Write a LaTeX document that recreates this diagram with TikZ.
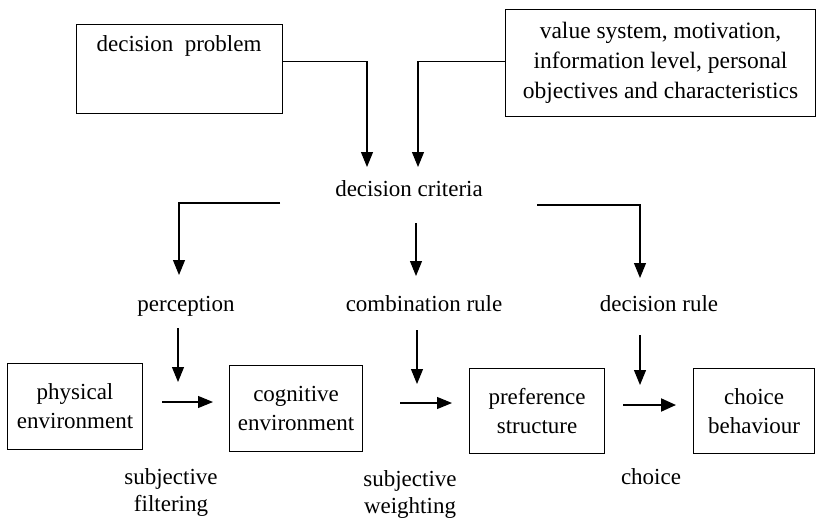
\documentclass[tikz,border=0pt]{standalone}
\usepackage{fontspec}
\setmainfont{Liberation Serif}
\usetikzlibrary{arrows.meta}
\begin{document}
\begin{tikzpicture}[x=1pt,y=-1pt,
  every node/.style={font=\fontsize{23}{29}\selectfont, inner sep=0pt},
  box/.style={draw, line width=1.1pt, anchor=north west, align=center},
  lbl/.style={anchor=base},
  two/.style={align=center, font=\fontsize{23}{27}\selectfont},
  arr/.style={line width=1.1pt, -{Triangle[width=12pt,length=15pt]}},
  thickarr/.style={line width=2pt, -{Triangle[width=13pt,length=15pt]}}]
\useasboundingbox (0,0) rectangle (818,519);

% top boxes
\node[box, minimum width=206pt, minimum height=89pt] (dp) at (76,24) {};
\node[lbl] (dpt) at (179,52) {decision\ \ problem};
\node[box, minimum width=310pt, minimum height=107pt,
      font=\fontsize{23.5}{30}\selectfont] (vb) at (505,9)
  {value system, motivation,\\information level, personal\\objectives and characteristics};

% decision criteria
\node[lbl] (dc) at (409,196) {decision criteria};
\coordinate (t1) at (367,167);
\coordinate (t2) at (418,167);
\draw[arr] ([yshift=7.5pt]dp.east) -| (t1);
\draw[arr] ([yshift=1.5pt]vb.west) -| (t2);

% branches
\coordinate (l0) at (280,203); \coordinate (l1) at (179,275);
\coordinate (m0) at (416,223); \coordinate (m1) at (416,276);
\coordinate (r0) at (537,205); \coordinate (r1) at (640,278);
\draw[arr] (l0) -| (l1);
\draw[arr] (m0) -- (m1);
\draw[arr] (r0) -| (r1);

% middle labels
\node[lbl] (perc) at (186,311) {perception};
\node[lbl] (comb) at (424,311) {combination rule};
\node[lbl] (drule) at (659,311) {decision rule};

% short down arrows
\coordinate (d1a) at (178,328); \coordinate (d1b) at (178,382);
\coordinate (d2a) at (417,330); \coordinate (d2b) at (417,384);
\coordinate (d3a) at (640,335); \coordinate (d3b) at (640,385);
\draw[arr] (d1a) -- (d1b);
\draw[arr] (d2a) -- (d2b);
\draw[arr] (d3a) -- (d3b);

% bottom boxes
\node[box, minimum width=135pt, minimum height=86pt] (pe) at (7,363) {physical\\environment};
\node[box, minimum width=133pt, minimum height=86pt] (ce) at (229,365) {cognitive\\environment};
\node[box, minimum width=135pt, minimum height=85pt] (ps) at (469,368) {preference\\structure};
\node[box, minimum width=121pt, minimum height=85pt] (cb) at (693,368) {choice\\behaviour};

% horizontal arrows
\coordinate (h1a) at (162,402); \coordinate (h1b) at (213,402);
\coordinate (h2a) at (400,403); \coordinate (h2b) at (452,403);
\coordinate (h3a) at (623,405); \coordinate (h3b) at (676,405);
\draw[arr] (h1a) -- (h1b);
\draw[arr] (h2a) -- (h2b);
\draw[thickarr] (h3a) -- (h3b);

% bottom labels
\node[two] (sf) at (171,492) {subjective\\filtering};
\node[two] (sw) at (410,494) {subjective\\weighting};
\node[lbl] (ch) at (651,484) {choice};
\end{tikzpicture}
\end{document}
